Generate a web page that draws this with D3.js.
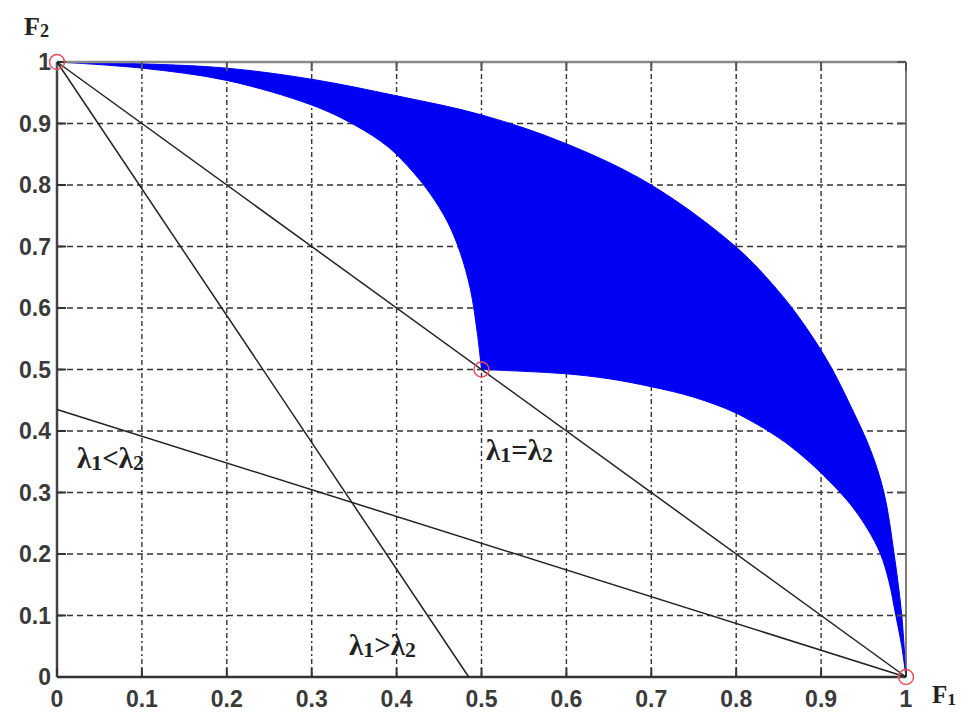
<!DOCTYPE html>
<html>
<head>
<meta charset="utf-8">
<script src="https://cdn.jsdelivr.net/npm/d3@7"></script>
<style>
  body { margin: 0; background: #fff; }
  .tick-label { font-family: "Liberation Sans", Arial, sans-serif; font-weight: bold; font-size: 23px; fill: #3a3a3a; }
  .serif { font-family: "Liberation Serif", "Times New Roman", serif; fill: #222; }
</style>
</head>
<body>
<div id="chart"></div>
<script>
// tick values on both axes
var ticks = [0, 0.1, 0.2, 0.3, 0.4, 0.5, 0.6, 0.7, 0.8, 0.9, 1];
var tickLabels = ["0", "0.1", "0.2", "0.3", "0.4", "0.5", "0.6", "0.7", "0.8", "0.9", "1"];

// blue region
var upperEdge = [[0, 1], [0.1, 0.997], [0.2, 0.99], [0.3, 0.972], [0.4, 0.945], [0.5, 0.914],
  [0.6, 0.867], [0.7, 0.8], [0.8, 0.699], [0.85, 0.627], [0.88, 0.573], [0.91, 0.508],
  [0.935, 0.44], [0.958, 0.37], [0.974, 0.3], [0.986, 0.2], [0.995, 0.1], [1, 0]];
var lowerEdge = [[0.5, 0.5], [0.55, 0.497], [0.6, 0.493], [0.65, 0.485], [0.7, 0.472],
  [0.75, 0.455], [0.8, 0.429], [0.85, 0.389], [0.88, 0.357], [0.91, 0.318], [0.935, 0.28],
  [0.955, 0.24], [0.97, 0.2], [0.98, 0.155], [0.988, 0.1], [0.995, 0.05], [1, 0]];
var innerEdge = [[0, 1], [0.1, 0.99], [0.2, 0.97], [0.3, 0.93], [0.35, 0.898], [0.39, 0.862],
  [0.42, 0.82], [0.44, 0.785], [0.46, 0.74], [0.475, 0.69], [0.487, 0.63], [0.495, 0.56], [0.5, 0.5]];

// the three weight lines
var weightLines = [
  { name: "eq", pts: [[0, 1], [1, 0]] },
  { name: "gt", pts: [[0, 1], [0.485, 0]] },
  { name: "lt", pts: [[0, 0.435], [1, 0]] }
];
var markers = [[0, 1], [0.5, 0.5], [1, 0]];

var width = 968, height = 713;
var x = d3.scaleLinear().domain([0, 1]).range([57, 906]);
var y = d3.scaleLinear().domain([0, 1]).range([677, 62]);

var svg = d3.select("#chart").append("svg")
  .attr("width", width)
  .attr("height", height);

// grid
var grid = svg.append("g");
grid.selectAll(".gx")
  .data(ticks.slice(1, -1))
  .enter().append("line")
  .attr("x1", d => x(d)).attr("x2", d => x(d))
  .attr("y1", y(0)).attr("y2", y(1))
  .attr("stroke", "#333").attr("stroke-width", 1.4)
  .attr("stroke-dasharray", "5,3,2,3");
grid.selectAll(".gy")
  .data(ticks.slice(1, -1))
  .enter().append("line")
  .attr("y1", d => y(d)).attr("y2", d => y(d))
  .attr("x1", x(0)).attr("x2", x(1))
  .attr("stroke", "#333").attr("stroke-width", 1.4)
  .attr("stroke-dasharray", "6,4");

// blue region
var edge = d3.line()
  .x(d => x(d[0]))
  .y(d => y(d[1]))
  .curve(d3.curveCatmullRom);
var regionPath = edge(upperEdge)
  + edge(lowerEdge.slice().reverse()).replace(/^M/, "L")
  + edge(innerEdge.slice().reverse()).replace(/^M/, "L") + "Z";
svg.append("path")
  .attr("d", regionPath)
  .attr("fill", "#0000f5")
  .attr("stroke", "#0000f5")
  .attr("stroke-width", 1);

// axes box with inward ticks
var axisG = svg.append("g");
axisG.append("line").attr("x1", x(0)).attr("x2", x(1)).attr("y1", y(1)).attr("y2", y(1))
  .attr("stroke", "#8a8a8a").attr("stroke-width", 2.5);
axisG.append("line").attr("x1", x(1)).attr("x2", x(1)).attr("y1", y(0)).attr("y2", y(1))
  .attr("stroke", "#555").attr("stroke-width", 1.5);
axisG.append("line").attr("x1", x(0)).attr("x2", x(0)).attr("y1", y(0)).attr("y2", y(1))
  .attr("stroke", "#444").attr("stroke-width", 2.5);
axisG.append("line").attr("x1", x(0)).attr("x2", x(1)).attr("y1", y(0)).attr("y2", y(0))
  .attr("stroke", "#333").attr("stroke-width", 2.5);

var tickLen = 9;
ticks.forEach(function (t) {
  axisG.append("line").attr("x1", x(t)).attr("x2", x(t)).attr("y1", y(0)).attr("y2", y(0) - tickLen)
    .attr("stroke", "#333").attr("stroke-width", 2);
  axisG.append("line").attr("x1", x(t)).attr("x2", x(t)).attr("y1", y(1)).attr("y2", y(1) + tickLen)
    .attr("stroke", "#555").attr("stroke-width", 2);
  axisG.append("line").attr("y1", y(t)).attr("y2", y(t)).attr("x1", x(0)).attr("x2", x(0) + tickLen)
    .attr("stroke", "#333").attr("stroke-width", 2);
  axisG.append("line").attr("y1", y(t)).attr("y2", y(t)).attr("x1", x(1)).attr("x2", x(1) - tickLen)
    .attr("stroke", "#555").attr("stroke-width", 2);
});

// tick labels
svg.selectAll(".xl")
  .data(ticks)
  .enter().append("text")
  .attr("class", "tick-label")
  .attr("x", d => x(d))
  .attr("y", y(0) + 30)
  .attr("text-anchor", "middle")
  .text((d, i) => tickLabels[i]);
svg.selectAll(".yl")
  .data(ticks)
  .enter().append("text")
  .attr("class", "tick-label")
  .attr("x", x(0) - 6)
  .attr("y", d => y(d) + 8)
  .attr("text-anchor", "end")
  .text((d, i) => tickLabels[i]);

// weight lines
svg.selectAll(".wl")
  .data(weightLines)
  .enter().append("path")
  .attr("d", d => d3.line().x(p => x(p[0])).y(p => y(p[1]))(d.pts))
  .attr("fill", "none")
  .attr("stroke", "#222")
  .attr("stroke-width", 1.5);

// red circles
svg.selectAll(".mk")
  .data(markers)
  .enter().append("circle")
  .attr("cx", d => x(d[0]))
  .attr("cy", d => y(d[1]))
  .attr("r", 7.5)
  .attr("fill", "none")
  .attr("stroke", "#e8505a")
  .attr("stroke-width", 1.5);

// text with subscripts
function subText(px, py, parts, size, subScale) {
  var t = svg.append("text").attr("class", "serif").attr("x", px).attr("y", py)
    .style("font-size", size + "px");
  parts.forEach(function (p) {
    var s = t.append("tspan").text(p[0]);
    if (p[1]) s.style("font-size", (size * subScale) + "px").attr("dy", 2);
    else s.attr("dy", p[2] || 0);
  });
  return t;
}
subText(486, 460, [["λ"], ["1", true], ["=", false, -2], ["λ"], ["2", true]], 29, 0.75)
  .style("font-weight", "bold").style("stroke", "#fff").style("stroke-width", 0.6).style("paint-order", "stroke");
subText(77, 468, [["λ"], ["1", true], ["<", false, -2], ["λ"], ["2", true]], 29, 0.75)
  .style("font-weight", "bold");
subText(349, 655, [["λ"], ["1", true], [">", false, -2], ["λ"], ["2", true]], 29, 0.75)
  .style("font-weight", "bold");

subText(24, 35, [["F"], ["2", true]], 26, 0.7).style("font-weight", "bold");
subText(932, 703, [["F"], ["1", true]], 25, 0.7).style("font-weight", "bold");
</script>
</body>
</html>
